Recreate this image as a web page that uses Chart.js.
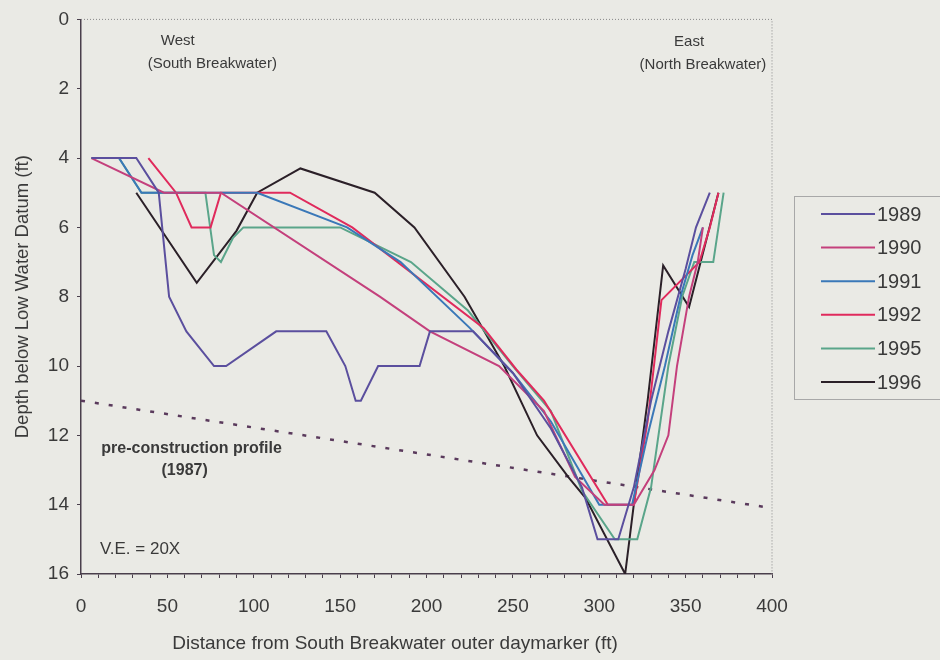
<!DOCTYPE html>
<html>
<head>
<meta charset="utf-8">
<script src="https://cdn.jsdelivr.net/npm/chart.js@4"></script>
<style>
  html, body { margin: 0; padding: 0; background: #eaeae5; }
  #wrap { position: relative; width: 940px; height: 660px; }
</style>
</head>
<body>
<div id="wrap"><canvas id="profileChart" width="940" height="660"></canvas></div>
<script>
// survey years
const years = ['1989', '1990', '1991', '1992', '1995', '1996'];
const lineColors = ['#5b4f9e', '#c4407c', '#3a78b8', '#e02a5c', '#5aa58a', '#2b2028'];

// [distance (ft), depth (ft)]
const profile1989 = [[6,4],[32,4],[45,5],[51,8],[61,9],[77,10],[84,10],[113,9],[142,9],[153,10],[159,11],[162,11],[172,10],[196,10],[202,9],[227,9],[250,10.2],[272,11.8],[290,13.5],[299,15],[311,15],[320,13.5],[330,11],[340,9],[350,7.2],[356,6],[364,5]];
const profile1990 = [[6,4],[48,5],[81,5],[173,8],[202,9],[242,10],[268,11.3],[286,13.2],[303,14],[320,14],[332,13],[340,12],[345,10],[352,8],[357,7],[360,6]];
const profile1991 = [[22,4],[35,5],[102,5],[154,6],[185,7],[225,8.9],[250,10.2],[272,11.6],[300,14],[319,14],[328,12],[338,10],[347,8],[354,6.8],[360,6]];
const profile1992 = [[39,4],[55,5],[64,6],[75,6],[81,5],[121,5],[157,6],[233,8.9],[252,10.1],[268,11],[305,14],[320,14],[328,11.6],[336,8.1],[358,7],[364,6],[369,5]];
const profile1995 = [[6,4],[22,4],[35,5],[72,5],[77,6.8],[81,7],[88,6.3],[94,6],[150,6],[191,7],[224,8.4],[250,10],[272,11.3],[290,13.6],[309,15],[322,15],[330,13.5],[340,10],[348,8],[355,7],[366,7],[372,5]];
const profile1996 = [[32,5],[67,7.6],[90,6.1],[102,5],[127,4.3],[170,5],[193,6],[222,8],[245,10],[264,12],[282,13.2],[292,13.8],[315,16],[320,14],[328,11],[337,7.1],[352,8.3],[369,5]];
const profiles = [profile1989, profile1990, profile1991, profile1992, profile1995, profile1996];

// 1987 pre-construction profile (straight line)
const preConstruction = [[0,11],[400,14.1]];

const xTicks = { min: 0, max: 400, step: 10, labelEvery: 50 };
const yTicks = { min: 0, max: 16, step: 2 };

const textColor = '#3a3a3a';
const fontFamily = '"Liberation Sans", Arial, sans-serif';

const toPoints = arr => arr.map(p => ({ x: p[0], y: p[1] }));

const datasets = profiles.map((prof, i) => ({
    label: years[i],
    data: toPoints(prof),
    borderColor: lineColors[i],
    backgroundColor: lineColors[i],
    borderWidth: 2,
    pointRadius: 0,
    tension: 0
}));
datasets.push({
    label: 'pre-construction profile (1987)',
    data: toPoints(preConstruction),
    borderColor: '#5a3a5c',
    borderWidth: 2.5,
    borderDash: [4, 10],
    pointRadius: 0,
    inLegend: false
});

// frame, notes, x title and legend drawn on top of the chart
const decorations = {
    id: 'decorations',
    afterDraw(chart) {
        const { ctx, chartArea: a, scales } = chart;
        const xs = scales.x, ys = scales.y;
        ctx.save();

        // dotted top / right frame
        ctx.strokeStyle = '#888';
        ctx.lineWidth = 1;
        ctx.setLineDash([1, 2]);
        ctx.beginPath();
        ctx.moveTo(a.left, a.top);
        ctx.lineTo(a.right, a.top);
        ctx.lineTo(a.right, a.bottom);
        ctx.stroke();
        ctx.setLineDash([]);

        // notes
        ctx.fillStyle = textColor;
        ctx.textAlign = 'center';
        ctx.textBaseline = 'middle';
        const note = (txt, x, y) => ctx.fillText(txt, xs.getPixelForValue(x), ys.getPixelForValue(y));
        ctx.font = '15px ' + fontFamily;
        note('West', 56, 0.62);
        note('(South Breakwater)', 76, 1.28);
        note('East', 352, 0.64);
        note('(North Breakwater)', 360, 1.32);
        ctx.font = 'bold 16px ' + fontFamily;
        note('pre-construction profile', 64, 12.38);
        note('(1987)', 60, 13.03);
        ctx.font = '17px ' + fontFamily;
        ctx.textAlign = 'left';
        note('V.E. = 20X', 11, 15.28);

        // x axis title (sits left of the axis centre in the original)
        ctx.textAlign = 'center';
        ctx.font = '19px ' + fontFamily;
        ctx.fillText('Distance from South Breakwater outer daymarker (ft)', 395, 644);

        // legend
        const lx = 794, ly = 196, lw = 160, lh = 203;
        ctx.strokeStyle = '#a8a8a8';
        ctx.lineWidth = 1;
        ctx.strokeRect(lx + 0.5, ly + 0.5, lw, lh);
        ctx.font = '20px ' + fontFamily;
        ctx.textAlign = 'left';
        chart.data.datasets.filter(d => d.inLegend !== false).forEach((d, i) => {
            const y = 214 + i * 33.6;
            ctx.strokeStyle = d.borderColor;
            ctx.lineWidth = 2;
            ctx.beginPath();
            ctx.moveTo(821, y);
            ctx.lineTo(875, y);
            ctx.stroke();
            ctx.fillStyle = textColor;
            ctx.fillText(d.label, 877, y + 1);
        });
        ctx.restore();
    }
};

const ctx = document.getElementById('profileChart').getContext('2d');
new Chart(ctx, {
    type: 'line',
    data: { datasets: datasets },
    options: {
        responsive: false,
        animation: false,
        layout: { padding: { left: 0, top: 17, right: 168, bottom: 0 } },
        plugins: { legend: { display: false }, tooltip: { enabled: false } },
        scales: {
            x: {
                type: 'linear',
                min: xTicks.min,
                max: xTicks.max,
                afterFit: s => { s.height = 86; },
                border: { display: true, color: '#4a3f4c', width: 1.5 },
                grid: { display: true, drawOnChartArea: false, drawTicks: true, tickLength: 4, color: '#4a3f4c' },
                ticks: {
                    stepSize: xTicks.step,
                    autoSkip: false,
                    maxRotation: 0,
                    padding: 17,
                    color: textColor,
                    font: { family: fontFamily, size: 19 },
                    callback: v => (v % xTicks.labelEvery === 0 ? v : '')
                },
                title: { display: false }
            },
            y: {
                type: 'linear',
                reverse: true,
                min: yTicks.min,
                max: yTicks.max,
                afterFit: s => { s.width = 81; },
                border: { display: true, color: '#4a3f4c', width: 1.5 },
                grid: { display: true, drawOnChartArea: false, drawTicks: true, tickLength: 4, color: '#4a3f4c' },
                ticks: {
                    stepSize: yTicks.step,
                    padding: 8,
                    color: textColor,
                    font: { family: fontFamily, size: 19 }
                },
                title: {
                    display: true,
                    text: 'Depth below Low Water Datum (ft)',
                    color: textColor,
                    font: { family: fontFamily, size: 18.5 },
                    padding: { top: 12, bottom: 0 }
                }
            }
        }
    },
    plugins: [decorations]
});
</script>
</body>
</html>
